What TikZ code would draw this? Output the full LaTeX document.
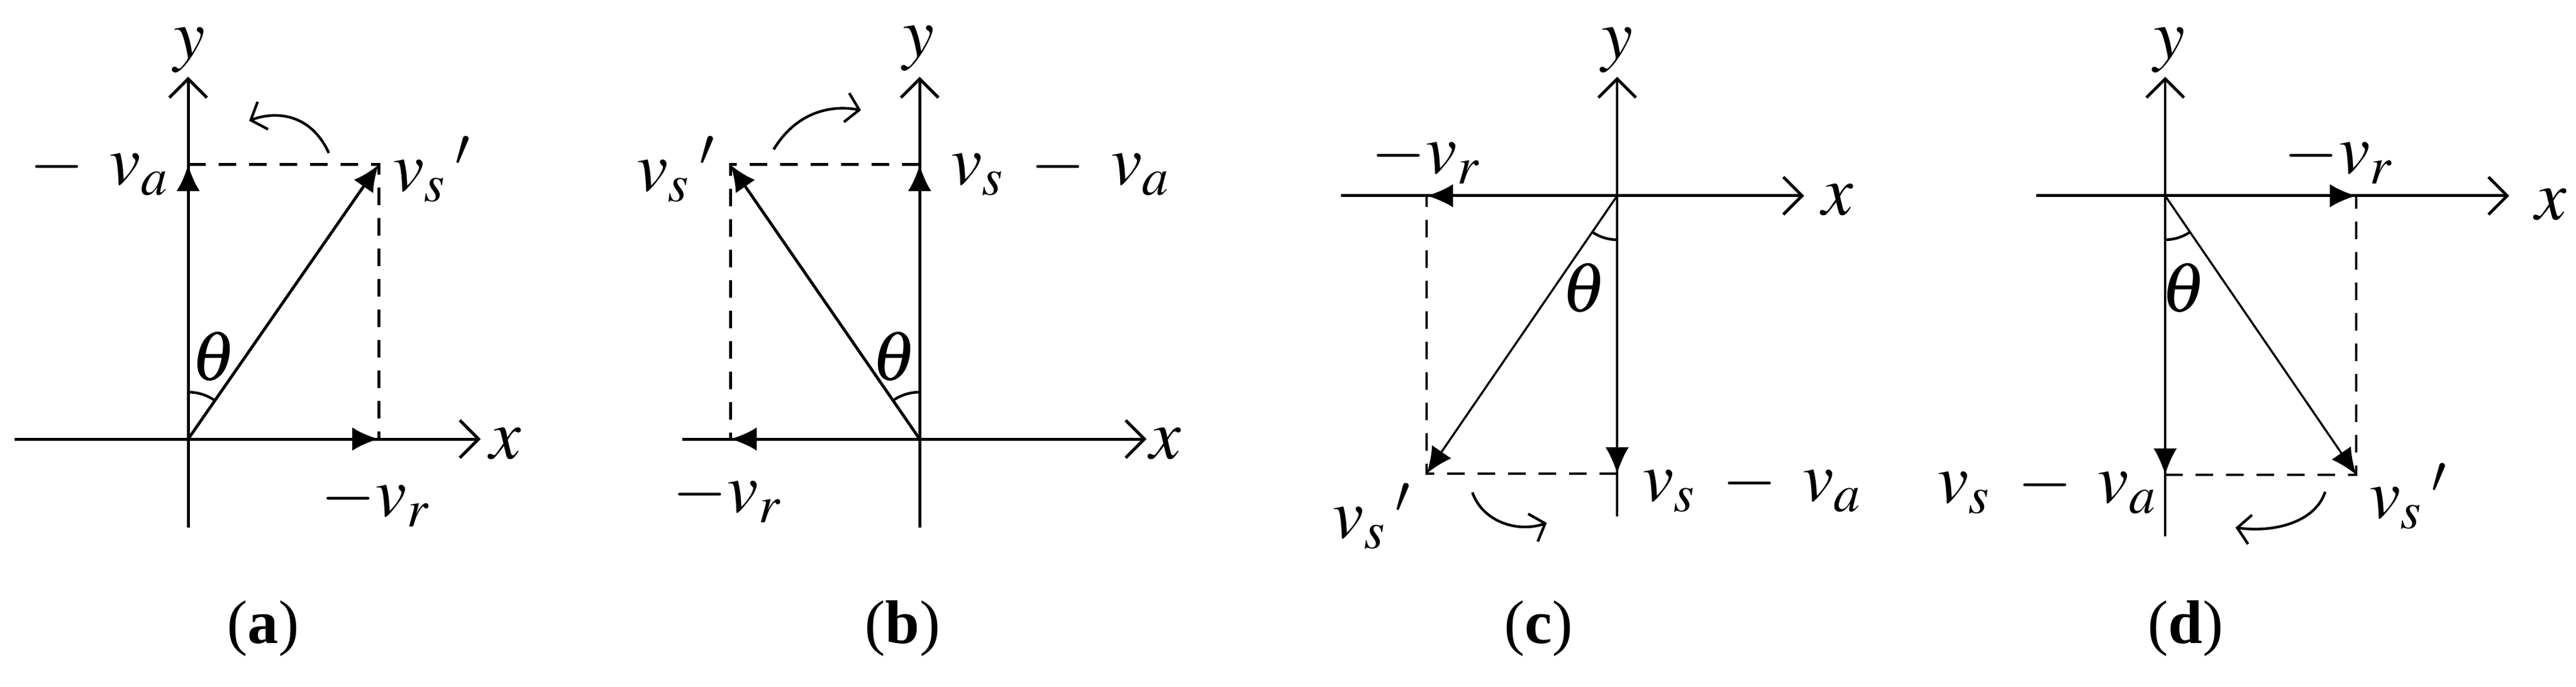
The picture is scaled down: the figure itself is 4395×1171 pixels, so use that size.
\documentclass[tikz,border=0pt]{standalone}
\usepackage{mathptmx}
\usepackage{fontspec}
\setmainfont{Liberation Serif}
\usetikzlibrary{arrows.meta}
\tikzset{
 ax/.style={line width=0.5pt,-{Straight Barb[length=3.2pt,width=6.4pt,line width=0.5pt]}},
 vec/.style={line width=0.5pt,-{Latex[length=4.5pt,width=4pt]}},
 thinvec/.style={line width=0.35pt,-{Latex[length=4.5pt,width=4pt]}},
 dsh/.style={line width=0.5pt,dash pattern=on 3pt off 2.2pt},
 rot/.style={line width=0.45pt,-{Straight Barb[length=2.2pt,width=5pt,line width=0.45pt]}},
 lab/.style={inner sep=0pt,font=\fontsize{12}{14}\selectfont},
 captxt/.style={inner sep=0pt,font=\fontsize{10.5}{12}\selectfont}
}
\begin{document}
\begin{tikzpicture}[x=0.1pt,y=0.1pt]
\useasboundingbox (0,0) rectangle (4395,1171);
% (a)
\coordinate (aO) at (321,422); \coordinate (aYt) at (321,1040); \coordinate (aYb) at (321,271);
\coordinate (aXl) at (25,422); \coordinate (aXr) at (820,422);
\coordinate (aP) at (646,890); \coordinate (aV) at (321,890); \coordinate (aR) at (646,422);
\draw[ax] (aYb) -- (aYt); \draw[ax] (aXl) -- (aXr);
\draw[vec] (aO) -- (aV); \draw[vec] (aO) -- (aR); \draw[vec] (aO) -- (aP);
\draw[dsh] (aV) -- (aP) -- (aR);
\draw[line width=0.45pt] ([shift={(90:80)}]aO) arc (90:55:80);
\coordinate (aC1) at (561,910); \coordinate (aC2) at (425,965);
\draw[rot] (aC1) .. controls (530,978) and (470,982) .. (aC2);
\node[lab] (ay) at (323,1085) {$y$};
\node[lab] (ax) at (862,414) {$x$};
\node[lab] (ath) at (365,563) {$\theta$};
\node[lab,anchor=east] (ava) at (292,882) {$v_s\;-\;v_a$};
\node[lab,anchor=west] (avs) at (668,882) {$v_s\,'$};
\node[lab] (avr) at (642,316) {$-v_r$};
\node[captxt] (acap) at (449,99) {(\textbf{a})};
% (b)
\coordinate (bO) at (1569,422); \coordinate (bYt) at (1569,1040); \coordinate (bYb) at (1569,271);
\coordinate (bXl) at (1164,422); \coordinate (bXr) at (1956,422);
\coordinate (bP) at (1246,890); \coordinate (bV) at (1569,890); \coordinate (bR) at (1246,422);
\draw[ax] (bYb) -- (bYt); \draw[ax] (bXl) -- (bXr);
\draw[vec] (bO) -- (bV); \draw[vec] (bO) -- (bR); \draw[vec] (bO) -- (bP);
\draw[dsh] (bV) -- (bP) -- (bR);
\draw[line width=0.45pt] ([shift={(90:80)}]bO) arc (90:125:80);
\coordinate (bC1) at (1320,916); \coordinate (bC2) at (1469,983);
\draw[rot] (bC1) .. controls (1360,982) and (1420,992) .. (bC2);
\node[lab] (by) at (1567,1088) {$y$};
\node[lab] (bx) at (1988,414) {$x$};
\node[lab] (bth) at (1526,563) {$\theta$};
\node[lab,anchor=east] (bvs) at (1225,882) {$v_s\,'$};
\node[lab,anchor=west] (bva) at (1620,882) {$v_s\;-\;v_a$};
\node[lab] (bvr) at (1242,323) {$-v_r$};
\node[captxt] (bcap) at (1540,99) {(\textbf{b})};
% (c)
\coordinate (cO) at (2759,837); \coordinate (cYt) at (2759,1040); \coordinate (cYb) at (2759,290);
\coordinate (cXl) at (2288,837); \coordinate (cXr) at (3078,837);
\coordinate (cP) at (2434,363); \coordinate (cV) at (2759,363); \coordinate (cR) at (2434,837);
\draw[ax,line width=0.35pt] (cYb) -- (cYt); \draw[ax] (cXl) -- (cXr);
\draw[thinvec] (cO) -- (cV); \draw[vec] (cO) -- (cR); \draw[thinvec] (cO) -- (cP);
\draw[dsh,line width=0.4pt] (cV) -- (cP) -- (cR);
\draw[line width=0.45pt] ([shift={(270:75)}]cO) arc (270:236:75);
\coordinate (cC1) at (2512,331); \coordinate (cC2) at (2639,279);
\draw[rot] (cC1) .. controls (2530,280) and (2590,262) .. (cC2);
\node[lab] (cy) at (2759,1085) {$y$};
\node[lab] (cx) at (3135,830) {$x$};
\node[lab] (cth) at (2703,680) {$\theta$};
\node[lab] (cvr) at (2434,901) {$-v_r$};
\node[lab,anchor=west] (cva) at (2800,342) {$v_s\;-\;v_a$};
\node[lab] (cvs) at (2342,290) {$v_s\,'$};
\node[captxt] (ccap) at (2625,99) {(\textbf{c})};
% (d)
\coordinate (dO) at (3694,837); \coordinate (dYt) at (3694,1040); \coordinate (dYb) at (3694,256);
\coordinate (dXl) at (3474,837); \coordinate (dXr) at (4281,837);
\coordinate (dP) at (4020,361); \coordinate (dV) at (3694,361); \coordinate (dR) at (4020,837);
\draw[ax,line width=0.35pt] (dYb) -- (dYt); \draw[ax] (dXl) -- (dXr);
\draw[thinvec] (dO) -- (dV); \draw[vec] (dO) -- (dR); \draw[thinvec] (dO) -- (dP);
\draw[dsh,line width=0.4pt] (dV) -- (dP) -- (dR);
\draw[line width=0.45pt] ([shift={(270:75)}]dO) arc (270:304:75);
\coordinate (dC1) at (3967,332); \coordinate (dC2) at (3814,271);
\draw[rot] (dC1) .. controls (3950,280) and (3880,262) .. (dC2);
\node[lab] (dy) at (3701,1085) {$y$};
\node[lab] (dx) at (4352,822) {$x$};
\node[lab] (dth) at (3726,680) {$\theta$};
\node[lab] (dvr) at (3991,901) {$-v_r$};
\node[lab,anchor=east] (dva) at (3684,339) {$v_s\;-\;v_a$};
\node[lab,anchor=west] (dvs) at (4040,324) {$v_s\,'$};
\node[captxt] (dcap) at (3729,99) {(\textbf{d})};
\end{tikzpicture}
\end{document}
